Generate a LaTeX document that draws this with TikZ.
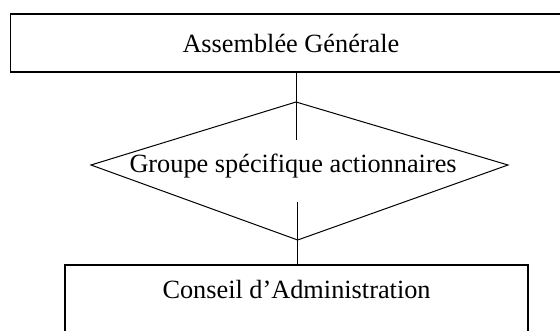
\documentclass[tikz,border=0pt]{standalone}
\usepackage{fontspec}
\setmainfont{Liberation Serif}
\begin{document}
\begin{tikzpicture}[x=1pt,y=-1pt,line width=1pt,
  lbl/.style={font=\fontsize{26.3}{30}\selectfont,inner sep=0pt,anchor=base west},
  boxline/.style={draw=black,line width=1.3pt},
  conn/.style={draw=black,line width=1pt}]
\useasboundingbox (0,0) rectangle (560,331);
\fill[white] (0,0) rectangle (560,331);
\clip (0,0) rectangle (560,331);
% top box
\draw[boxline] (10.7,14) rectangle (600,72);
\node[lbl] (ag) at (182,53) {Assemblée Générale};
% diamond
\coordinate (dT) at (296,102);
\coordinate (dR) at (508,165);
\coordinate (dB) at (297.7,240);
\coordinate (dL) at (91,165);
\draw[conn] (dT) -- (dR) -- (dB) -- (dL) -- cycle;
\node[lbl] (gsa) at (129,173) {Groupe spécifique actionnaires};
% bottom box
\draw[boxline,line width=1.1pt] (65,265) rectangle (528,400);
\node[lbl] (ca) at (162,299) {Conseil d’Administration};
% connectors
\coordinate (agS) at (296,72);
\coordinate (gN) at (296,140);
\coordinate (gS) at (297.7,202);
\coordinate (caN) at (297.7,265);
\draw[conn] (agS) -- (gN);
\draw[conn] (gS) -- (caN);
\end{tikzpicture}
\end{document}
